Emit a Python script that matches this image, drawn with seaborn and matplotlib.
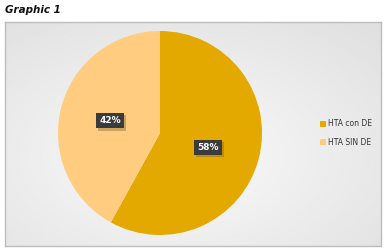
import matplotlib
matplotlib.use("Agg")
import matplotlib.pyplot as plt
import matplotlib.patheffects as pe
import seaborn as sns
import numpy as np

categories = ["HTA con DE", "HTA SIN DE"]
values = [58, 42]
colors = ["#E3A900", "#FFCC80"]

sns.set_theme(style="white")
plt.rcParams['font.family'] = ['DejaVu Sans']

fig = plt.figure(figsize=(3.86, 2.5), dpi=100)
fig.patch.set_facecolor("white")

# chart frame
bg = fig.add_axes([5/386, 1 - 246/250, 376/386, 224/250])
bg.set_xlim(0, 1); bg.set_ylim(0, 1)
grad = np.linspace(0, 1, 200)
X, Y = np.meshgrid(grad, grad)
R = np.sqrt((X - 0.45) ** 2 + (Y - 0.6) ** 2)
bg.imshow(0.98 - 0.13 * R, cmap="gray", vmin=0, vmax=1, extent=[0, 1, 0, 1], aspect="auto")
for s in bg.spines.values():
    s.set_color("#bdbdbd"); s.set_linewidth(1)
bg.set_xticks([]); bg.set_yticks([])

fig.text(5/386, 1 - 10/250, "Graphic 1", fontsize=7.5, fontweight="bold", style="italic",
         va="center", ha="left", color="#111111")

cx, cy, r_px = 160, 133, 102
ax = fig.add_axes([(cx - r_px)/386, 1 - (cy + r_px)/250, 2*r_px/386, 2*r_px/250])
ax.set_aspect("equal")
wedges, _ = ax.pie(values, colors=colors, startangle=90, counterclock=False,
                   wedgeprops=dict(linewidth=0))
ax.set_xlim(-1, 1); ax.set_ylim(-1, 1)
ax.axis("off")

label_pos = [(0.47, -0.14), (-0.49, 0.12)]
for (x, y), v in zip(label_pos, values):
    t = ax.text(x, y, f"{v}%", ha="center", va="center", fontsize=6.5, fontweight="bold",
                color="white",
                bbox=dict(boxstyle="square,pad=0.35", fc="#3b3b3b", ec="none"))
    t.get_bbox_patch().set_path_effects([
        pe.withSimplePatchShadow(offset=(1.5, -1.5), shadow_rgbFace="#6b5a2a", alpha=0.35)])

leg = fig.legend(wedges, categories, loc="center left", bbox_to_anchor=(313/386, 1 - 133/250),
                 frameon=False, fontsize=5.5, handlelength=0.8, handleheight=0.8,
                 handletextpad=0.3, labelspacing=1.2)
for t in leg.get_texts():
    t.set_color("#333333")

fig.savefig("out.png", dpi=100)
